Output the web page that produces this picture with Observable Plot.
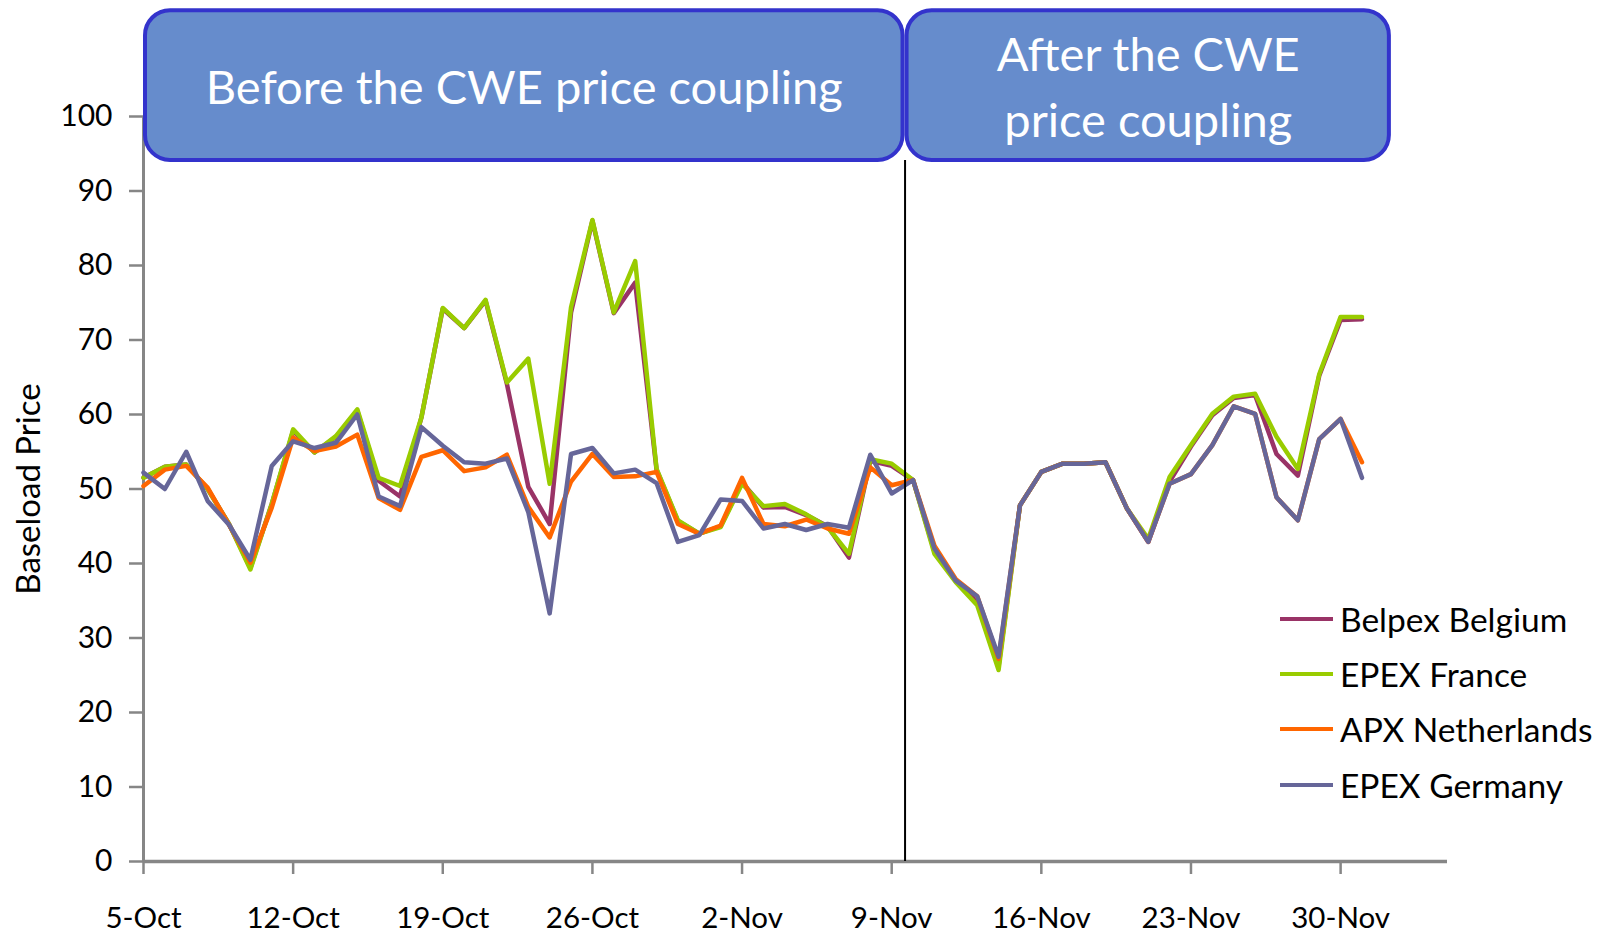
<!DOCTYPE html>
<html><head><meta charset="utf-8">
<script src="https://cdn.jsdelivr.net/npm/d3@7"></script>
<script src="https://cdn.jsdelivr.net/npm/@observablehq/plot@0.6"></script>
<style>
html,body{margin:0;padding:0;background:#fff;overflow:hidden}
#wrap{position:relative;width:1606px;height:938px;font-family:Lato,sans-serif}
#wrap svg{position:absolute;left:0;top:0}
.item{position:absolute;left:1280px;height:40px;display:flex;align-items:center;font-size:33.5px;white-space:nowrap;color:#000}
.sw{width:53px;height:4px;margin-right:7px}
</style></head><body><div id="wrap"></div>
<script>
const dates = ["2010-10-05","2010-10-06","2010-10-07","2010-10-08","2010-10-09","2010-10-10","2010-10-11","2010-10-12","2010-10-13","2010-10-14",
"2010-10-15","2010-10-16","2010-10-17","2010-10-18","2010-10-19","2010-10-20","2010-10-21","2010-10-22","2010-10-23","2010-10-24",
"2010-10-25","2010-10-26","2010-10-27","2010-10-28","2010-10-29","2010-10-30","2010-10-31","2010-11-01","2010-11-02","2010-11-03",
"2010-11-04","2010-11-05","2010-11-06","2010-11-07","2010-11-08","2010-11-09","2010-11-10","2010-11-11","2010-11-12","2010-11-13",
"2010-11-14","2010-11-15","2010-11-16","2010-11-17","2010-11-18","2010-11-19","2010-11-20","2010-11-21","2010-11-22","2010-11-23",
"2010-11-24","2010-11-25","2010-11-26","2010-11-27","2010-11-28","2010-11-29","2010-11-30","2010-12-01"];

const belgium = [51.5,53.0,53.3,50.0,45.3,39.4,48.0,57.8,54.9,57.0, 60.5,51.1,49.0,59.6,74.2,71.6,75.3,64.1,50.3,45.3,
 73.7,86.0,73.6,77.7,52.6,45.7,44.0,45.0,50.9,47.5, 47.6,46.5,45.0,40.8,53.8,53.1,51.2,41.6,37.6,34.8,
 26.2,47.8,52.3,53.4,53.4,53.6,47.4,42.9,51.0,55.7, 59.9,62.2,62.6,54.7,51.8,65.2,72.7,72.8];
const france = [51.5,53.0,53.3,50.0,45.3,39.2,48.0,58.0,54.9,57.1, 60.7,51.5,50.4,59.6,74.3,71.6,75.4,64.3,67.5,50.7,
 74.4,86.1,73.7,80.6,52.7,45.8,44.0,44.9,50.7,47.7, 48.0,46.6,44.9,41.3,54.0,53.4,51.2,41.3,37.5,34.4,
 25.7,47.8,52.3,53.4,53.4,53.6,47.4,43.3,51.6,55.9, 60.1,62.4,62.8,57.0,52.7,65.4,73.1,73.1];
const netherlands = [50.4,52.6,53.1,50.2,45.2,40.1,47.5,56.9,55.1,55.7, 57.3,48.8,47.2,54.3,55.2,52.4,52.9,54.6,47.6,43.5,
 51.0,54.7,51.6,51.7,52.3,45.3,44.0,45.1,51.5,45.3, 45.0,45.9,44.7,44.0,52.9,50.5,51.2,42.4,37.9,35.6,
 27.2,47.8,52.3,53.4,53.4,53.6,47.4,42.9,50.7,52.0, 55.9,61.1,60.1,48.9,45.8,56.7,59.4,53.6];
const germany = [52.2,50.0,55.0,48.4,45.2,40.5,53.1,56.4,55.5,56.2, 60.0,49.0,47.7,58.3,55.8,53.6,53.4,54.1,46.9,33.3,
 54.7,55.5,52.1,52.6,50.8,42.9,43.8,48.6,48.4,44.7, 45.3,44.5,45.3,44.8,54.6,49.4,51.2,42.0,37.7,35.6,
 27.5,47.8,52.3,53.4,53.4,53.6,47.4,42.9,50.7,52.0, 55.9,61.1,60.1,48.9,45.8,56.7,59.4,51.5];

const seriesNames = ["Belpex Belgium","EPEX France","APX Netherlands","EPEX Germany"];
const seriesValues = [belgium, france, netherlands, germany];
const seriesColors = ["#993366","#99CC00","#FF6600","#666699"];

const tickDates = ["2010-10-05","2010-10-12","2010-10-19","2010-10-26","2010-11-02","2010-11-09","2010-11-16","2010-11-23","2010-11-30"];
const tickLabels = ["5-Oct","12-Oct","19-Oct","26-Oct","2-Nov","9-Nov","16-Nov","23-Nov","30-Nov"];
const yTicks = [0,10,20,30,40,50,60,70,80,90,100];
const xDomain = ["2010-10-05","2010-12-05"];
const yLabel = "Baseload Price";

const couplingDate = "2010-11-09T15:00Z";
const boxStarts = ["2010-10-05", couplingDate];
const boxEnds = [couplingDate, "2010-12-02T09:00Z"];
const boxLabels = ["Before the CWE price coupling", "After the CWE\nprice coupling"];
const boxTop = 114.2, boxBottom = 94.1;

const rows = seriesNames.flatMap((name, i) => dates.map((d, j) => ({date: new Date(d), value: seriesValues[i][j], series: name})));
const boxes = boxLabels.map((label, i) => ({x1: new Date(boxStarts[i]), x2: new Date(boxEnds[i]), label}));
boxes.forEach(b => b.xm = new Date((+b.x1 + +b.x2) / 2));
const tickD = tickDates.map(d => new Date(d));
const axisGrey = "#868686";

const chart = Plot.plot({
  width: 1606, height: 938,
  marginLeft: 143, marginRight: 159, marginTop: 116, marginBottom: 77,
  style: {fontFamily: "Lato, sans-serif", background: "white"},
  x: {type: "utc", domain: xDomain.map(d => new Date(d))},
  y: {domain: [0, 100]},
  color: {domain: seriesNames, range: seriesColors},
  marks: [
    Plot.axisY({ticks: yTicks, tickSize: 14, tickPadding: 17, fontSize: 30, label: null, stroke: axisGrey, strokeWidth: 2.5, fill: "black"}),
    Plot.axisX({ticks: tickD, tickFormat: d => tickLabels[tickD.findIndex(t => +t === +d)], tickSize: 13, tickPadding: 33, fontSize: 29.5, label: null, stroke: axisGrey, strokeWidth: 2.5, fill: "black"}),
    Plot.ruleX([new Date(xDomain[0])], {stroke: axisGrey, strokeWidth: 3}),
    Plot.ruleY([0], {stroke: axisGrey, strokeWidth: 3.5}),
    Plot.text([yLabel], {frameAnchor: "left", textAnchor: "middle", rotate: -90, dx: -114, fontSize: 33, fill: "black"}),
    Plot.line(rows, {x: "date", y: "value", z: "series", stroke: "series", strokeWidth: 4.5, strokeLinejoin: "round"}),
    Plot.ruleX([new Date(couplingDate)], {y1: 0, y2: boxBottom, stroke: "black", strokeWidth: 2}),
    Plot.rect(boxes, {x1: "x1", x2: "x2", y1: boxBottom, y2: boxTop, rx: 25, fill: "#668CCC", stroke: "#3333CC", strokeWidth: 4, insetLeft: 2, insetRight: 2}),
    Plot.text(boxes, {x: "xm", y: (boxTop + boxBottom) / 2, text: "label", fill: "white", fontSize: 47, lineHeight: 1.4, dy: -3})
  ]
});
const wrap = document.getElementById("wrap");
wrap.appendChild(chart);

const legendCenters = [619, 674, 729, 785];
seriesNames.forEach((name, i) => {
  const it = document.createElement("div");
  it.className = "item";
  it.style.top = (legendCenters[i] - 20) + "px";
  it.innerHTML = `<div class="sw" style="background:${seriesColors[i]}"></div><span>${name}</span>`;
  wrap.appendChild(it);
});
</script></body></html>
